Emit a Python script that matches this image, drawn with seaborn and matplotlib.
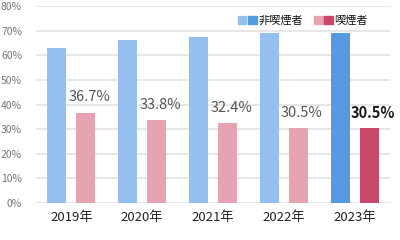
import pandas as pd
import seaborn as sns
import matplotlib.pyplot as plt
from matplotlib.patches import Patch
from matplotlib.legend_handler import HandlerTuple

years = ['2019年', '2020年', '2021年', '2022年', '2023年']
non_smoker = [63.0, 66.1, 67.5, 69.0, 69.0]
smoker = [36.7, 33.8, 32.4, 30.5, 30.5]
groups = ['非喫煙者', '喫煙者']

light_colors = ['#95bfee', '#e6a3b2']
dark_colors = ['#5599e2', '#c9486a']

sns.set_style('white')
plt.rcParams['font.family'] = ['Noto Sans CJK JP', 'DejaVu Sans']

data = pd.DataFrame({
    'year': years * 2,
    'group': [groups[0]] * len(years) + [groups[1]] * len(years),
    'value': non_smoker + smoker,
})

fig = plt.figure(figsize=(4, 2.4), dpi=100)
ax = fig.add_axes([0.09, 0.154, 0.885, 0.821])
sns.barplot(data=data, x='year', y='value', hue='group', hue_order=groups,
            palette=light_colors, width=0.82, gap=0.34, legend=False, ax=ax,
            zorder=3)

# latest year is highlighted with the darker shade
for i, container in enumerate(ax.containers):
    for j, bar in enumerate(container):
        bar.set_facecolor(dark_colors[i] if j == len(years) - 1 else light_colors[i])
        bar.set_edgecolor('none')

smoker_bars = ax.containers[1]
for j, (bar, val) in enumerate(zip(smoker_bars, smoker)):
    last = j == len(years) - 1
    ax.text(bar.get_x() + bar.get_width() / 2 + 0.05, val + 6.2, f'{val:.1f}%',
            ha='center', va='center', fontsize=10.5,
            color='#1a1a1a' if last else '#555555',
            fontweight='bold' if last else 'normal', zorder=4)

ax.set_ylim(0, 80)
ax.set_xlim(-0.5, len(years) - 0.5)
ax.set_yticks(range(0, 81, 10))
ax.set_yticklabels([f'{v}%' for v in range(0, 81, 10)], fontsize=7.5, color='#777777')
ax.tick_params(axis='y', length=0, pad=10)
ax.tick_params(axis='x', length=0, pad=6, labelsize=9.5, labelcolor='#222222')
ax.set_xlabel('')
ax.set_ylabel('')
ax.yaxis.grid(True, color='#e3e3e3', linewidth=1.2, zorder=0)
for s in ax.spines.values():
    s.set_visible(False)

handles = [(Patch(color=light_colors[0]), Patch(color=dark_colors[0])),
           (Patch(color=light_colors[1]), Patch(color=dark_colors[1]))]
leg = ax.legend(handles, groups, handler_map={tuple: HandlerTuple(ndivide=None, pad=0.15)},
                loc='upper right', bbox_to_anchor=(0.95, 0.975), ncol=2, frameon=False,
                fontsize=8, handlelength=1.7, handleheight=0.8, handletextpad=0.15,
                columnspacing=1.0, borderaxespad=0)
for t in leg.get_texts():
    t.set_color('#111111')

fig.savefig('out.png', dpi=100)
